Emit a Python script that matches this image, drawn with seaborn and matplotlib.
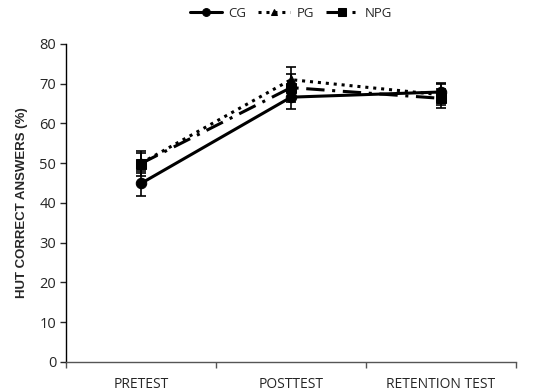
import matplotlib
matplotlib.use("Agg")
import matplotlib.pyplot as plt
import seaborn as sns
import pandas as pd

# values
tests = ["PRETEST", "POSTTEST", "RETENTION TEST"]
groups = ["CG", "PG", "NPG"]
cg_mean = [44.9, 66.6, 67.9]
pg_mean = [50.0, 71.0, 67.2]
npg_mean = [49.9, 69.0, 66.3]
cg_err = [3.2, 3.0, 2.3]
pg_err = [2.6, 3.1, 2.6]
npg_err = [3.1, 3.5, 2.4]

df = pd.DataFrame({
    "test": tests * 3,
    "pos": [0, 1, 2] * 3,
    "group": [g for g in groups for _ in tests],
    "mean": cg_mean + pg_mean + npg_mean,
    "err": cg_err + pg_err + npg_err,
})

sns.set_theme(style="ticks")
plt.rcParams["font.family"] = ["Open Sans", "DejaVu Sans"]

fig = plt.figure(figsize=(5.33, 3.92), dpi=100)
ax = fig.add_axes([0.124, 0.077, 0.844, 0.811])

styles = {
    "CG": dict(marker="o", linestyle="-", markersize=7.5),
    "PG": dict(marker="^", linestyle=(0, (1, 1.6)), markersize=6.5),
    "NPG": dict(marker="s", linestyle=(0, (6, 2.5, 1, 2.5)), markersize=7),
}

for g in groups:
    sub = df[df["group"] == g]
    ax.errorbar(sub["pos"], sub["mean"], yerr=sub["err"], fmt="none",
                ecolor="black", elinewidth=1.2, capsize=3.5, capthick=1.2, zorder=2)
    sns.lineplot(data=sub, x="pos", y="mean", ax=ax, color="black",
                 linewidth=2.2, label=g, markeredgecolor="black",
                 zorder=3, **styles[g])

ax.set_xlim(-0.5, 2.5)
ax.set_ylim(0, 80)
ax.set_yticks(range(0, 81, 10))
ax.set_xticks([0, 1, 2])
ax.set_xticklabels(tests)
ax.set_xticks([-0.5, 0.5, 1.5, 2.5], minor=True)
ax.tick_params(axis="x", which="major", length=0, labelsize=10, pad=11)
ax.tick_params(axis="x", which="minor", length=4, width=1, color="#555555", direction="out")
ax.tick_params(axis="y", length=4, width=1, labelsize=10.5, pad=3, direction="out")
ax.set_xlabel("")
ax.set_ylabel("HUT CORRECT ANSWERS (%)", fontsize=9.5, fontweight="bold",
              family=["Liberation Sans", "DejaVu Sans"], labelpad=8)

sns.despine(ax=ax)
ax.spines["left"].set_color("black")
ax.spines["bottom"].set_color("#555555")
ax.spines["left"].set_linewidth(1)
ax.spines["bottom"].set_linewidth(1)

leg = ax.legend(loc="upper center", bbox_to_anchor=(0.5, 1.155), ncol=3, frameon=False,
                fontsize=9.5, handlelength=2.4, columnspacing=0.9, handletextpad=0.5,
                markerscale=0.75)

fig.savefig("out.png", dpi=100)
